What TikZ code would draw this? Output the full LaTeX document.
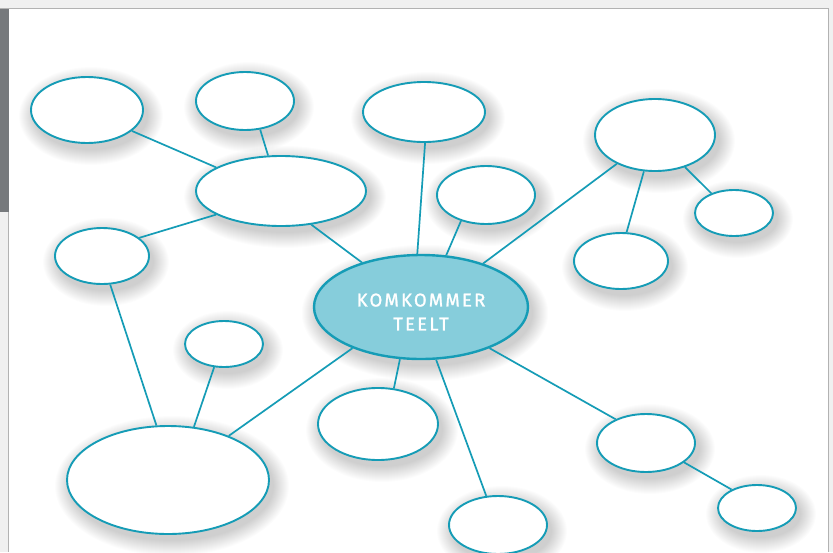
\documentclass[tikz,border=0pt]{standalone}
\usepackage{fontspec}
\newfontfamily\labelfont[LetterSpace=12,FakeBold=1.3]{Fira Sans}
\usetikzlibrary{shapes.geometric,calc}
\pgfdeclarelayer{shadowlayer}
\pgfsetlayers{shadowlayer,main}
\definecolor{teal}{HTML}{159CB6}
\definecolor{hubfill}{HTML}{86CDDB}
\definecolor{frame}{HTML}{F0F0F0}
\definecolor{barcol}{HTML}{76797C}
\definecolor{edgecol}{HTML}{B2B2B2}
\tikzset{
  bubble/.style={ellipse, draw=teal, line width=1.9pt, fill=white, inner sep=0pt},
  hub/.style={bubble, fill=hubfill, line width=2.4pt},
  link/.style={draw=teal, line width=1.7pt},
  haze/.style={fill=black, opacity=0.0105}
}
\begin{document}
\begin{tikzpicture}[x=1pt,y=-1pt]
  \useasboundingbox (0,0) rectangle (833,552);
  % page frame
  \begin{pgfonlayer}{shadowlayer}
  \fill[frame] (0,0) rectangle (833,552);
  \fill[white] (9,9) rectangle (828,552);
  \draw[edgecol, line width=1.2pt] (0,8.5) -- (828.5,8.5) -- (828.5,552);
  \draw[edgecol, line width=1pt] (8.5,212) -- (8.5,552);
  \fill[barcol] (0,9) rectangle (8.5,212);
  \end{pgfonlayer}

  % bubbles
  \node[bubble, minimum width=112pt, minimum height=66pt] (a) at (87,110) {};
  \node[bubble, minimum width=98pt, minimum height=58pt] (b) at (245,101) {};
  \node[bubble, minimum width=170pt, minimum height=70pt] (c) at (281,191) {};
  \node[bubble, minimum width=122pt, minimum height=60pt] (d) at (424,112) {};
  \node[bubble, minimum width=98pt, minimum height=58pt] (e) at (486,195) {};
  \node[bubble, minimum width=120pt, minimum height=72pt] (f) at (655,135) {};
  \node[bubble, minimum width=78pt, minimum height=46pt] (g) at (734,213) {};
  \node[bubble, minimum width=94pt, minimum height=56pt] (h) at (621,261) {};
  \node[bubble, minimum width=94pt, minimum height=56pt] (i) at (102,256) {};
  \node[bubble, minimum width=78pt, minimum height=46pt] (j) at (224,344) {};
  \node[bubble, minimum width=202pt, minimum height=108pt] (k) at (168,480) {};
  \node[bubble, minimum width=120pt, minimum height=72pt] (l) at (378,424) {};
  \node[bubble, minimum width=98pt, minimum height=58pt] (m) at (646,443) {};
  \node[bubble, minimum width=78pt, minimum height=46pt] (n) at (757,508) {};
  \node[bubble, minimum width=98pt, minimum height=58pt] (o) at (498,525) {};
  \node[hub, minimum width=214pt, minimum height=104pt, text=white,
        font=\labelfont\fontsize{18.5}{24}\selectfont] (hub) at (421,307)
        {\raisebox{-11pt}[0pt][0pt]{\begin{tabular}{@{}c@{}}KOMKOMMER\\TEELT\end{tabular}}};

  % soft drop shadows under every bubble
  \begin{pgfonlayer}{shadowlayer}
  \foreach \nd in {a,b,c,d,e,f,g,h,i,j,k,l,m,n,o,hub} {
    \foreach \k in {0,...,15} {
      \fill[haze] let \p1=($(\nd.east)-(\nd.center)$), \p2=($(\nd.north)-(\nd.center)$) in
        ([shift={(4,6)}]\nd.center) ellipse [x radius={\x1+15pt-\k*1pt}, y radius={\y2+15pt-\k*1pt}];
    }
  }
  \end{pgfonlayer}

  % connectors
  \draw[link] (a.-25.5) -- (c.160);
  \draw[link] (b.-62.6) -- (c.110.9);
  \draw[link] (c.-48.7) -- (hub.143.9);
  \draw[link] (c.200.6) -- (i.26.6);
  \draw[link] (d.-88) -- (hub.94.5);
  \draw[link] (e.-134) -- (hub.64.8);
  \draw[link] (f.-143.6) -- (hub.35.2);
  \draw[link] (f.-107) -- (h.79.5);
  \draw[link] (f.-47.7) -- (g.139.2);
  \draw[link] (i.-74) -- (k.102.5);
  \draw[link] (j.-113.5) -- (k.64.7);
  \draw[link] (hub.-149.3) -- (k.36.9);
  \draw[link] (hub.-112.4) -- (l.66.8);
  \draw[link] (hub.-74.9) -- (o.112.2);
  \draw[link] (hub.-31) -- (m.142.8);
  \draw[link] (m.-27.8) -- (n.144.7);
\end{tikzpicture}
\end{document}
